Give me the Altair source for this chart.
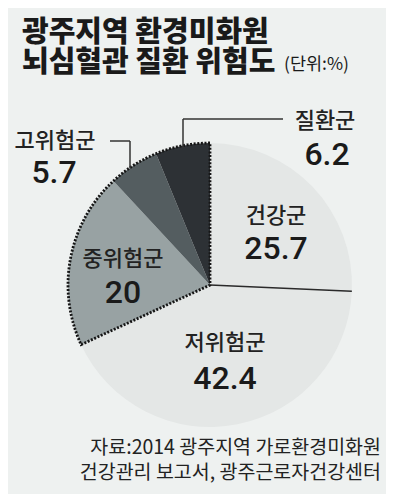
import altair as alt
import pandas as pd

# ---- data ----
names = ["건강군", "저위험군", "중위험군", "고위험군", "질환군"]
values = [25.7, 42.4, 20, 5.7, 6.2]
colors = ["#e4e7e6", "#e4e7e6", "#98a2a3", "#545d60", "#2d3135"]
dark_groups = ["중위험군", "고위험군", "질환군"]

title_line1 = "광주지역 환경미화원"
title_line2 = "뇌심혈관 질환 위험도"
unit_text = "(단위:%)"
source_lines = ["자료:2014 광주지역 가로환경미화원", "건강관리 보고서, 광주근로자건강센터"]

# ---- layout (positions only) ----
W, H = 378, 486
CX, CY, R = 202, 277, 142
name_pos = {"건강군": (268, 208), "저위험군": (217, 335), "중위험군": (115, 251),
            "고위험군": (47, 133), "질환군": (317, 113)}
value_pos = {"건강군": (268, 241), "저위험군": (217, 371), "중위험군": (115, 285),
             "고위험군": (46, 165), "질환군": (319, 147)}
leaders = [(175, 111, 275, 111), (175, 111, 175, 140),
           (102, 133, 122, 133), (122, 133, 122, 160)]

KFONT = "Noto Sans CJK KR"
NFONT = "Roboto"

# main slices, plus a zero-width divider between 건강군 and 저위험군
rows = []
for i, (n, v) in enumerate(zip(names, values)):
    rows.append({"name": n, "value": v, "ord": i * 2})
rows.append({"name": "divider", "value": 0.0, "ord": 1})
slices = pd.DataFrame(rows)

pie = alt.Chart(slices).mark_arc(outerRadius=R, strokeWidth=1.4).encode(
    theta=alt.Theta("value:Q", stack=True),
    order=alt.Order("ord:Q"),
    color=alt.Color("name:N", scale=alt.Scale(domain=names + ["divider"], range=colors + ["transparent"]), legend=None),
    stroke=alt.condition("datum.name == 'divider'", alt.value("#2a2a2a"), alt.value("transparent")),
    x=alt.value(CX), y=alt.value(CY),
)

light_total = sum(v for n, v in zip(names, values) if n not in dark_groups)
dark_total = sum(v for n, v in zip(names, values) if n in dark_groups)
groups = pd.DataFrame({"grp": ["light", "dark"], "value": [light_total, dark_total], "ord": [0, 1]})

outline = alt.Chart(groups).mark_arc(outerRadius=R, fill="transparent", strokeWidth=2.8,
                                     strokeDash=[2, 1.6]).encode(
    theta=alt.Theta("value:Q", stack=True),
    order=alt.Order("ord:Q"),
    stroke=alt.condition("datum.grp == 'dark'", alt.value("#151515"), alt.value("transparent")),
    x=alt.value(CX), y=alt.value(CY),
)

lead_df = pd.DataFrame(leaders, columns=["x", "y", "x2", "y2"])
leader_rules = alt.Chart(lead_df).mark_rule(color="#333333", strokeWidth=1.5).encode(
    x=alt.X("x:Q", scale=None), y=alt.Y("y:Q", scale=None),
    x2="x2:Q", y2="y2:Q",
)

lab = pd.DataFrame({
    "name": names,
    "vtxt": [f"{v:g}" for v in values],
    "nx": [name_pos[n][0] for n in names], "ny": [name_pos[n][1] for n in names],
    "vx": [value_pos[n][0] for n in names], "vy": [value_pos[n][1] for n in names],
})
name_text = alt.Chart(lab).mark_text(font=KFONT, fontSize=22, fontWeight=500, color="#222222",
                                     align="center", baseline="middle").encode(
    x=alt.X("nx:Q", scale=None), y=alt.Y("ny:Q", scale=None), text="name:N")
value_text = alt.Chart(lab).mark_text(font=NFONT, fontSize=32, fontWeight=500, color="#1a1a1a",
                                      align="center", baseline="middle").encode(
    x=alt.X("vx:Q", scale=None), y=alt.Y("vy:Q", scale=None), text="vtxt:N")

def txt(t, x, y, size, weight="normal", align="left", font=KFONT, color="#1a1a1a"):
    return alt.Chart(pd.DataFrame({"t": [t]})).mark_text(
        font=font, fontSize=size, fontWeight=weight, align=align, baseline="middle", color=color
    ).encode(x=alt.value(x), y=alt.value(y), text="t:N")

title1 = txt(title_line1, 14, 25, 29, 900)
title2 = txt(title_line2, 14, 55, 29, 900)
unit = txt(unit_text, 276, 57, 17.5)
src1 = txt(source_lines[0], 373, 440, 19.5, align="right", color="#222222")
src2 = txt(source_lines[1], 373, 465, 19.5, align="right", color="#222222")

chart = alt.layer(
    pie, outline, leader_rules, name_text, value_text, title1, title2, unit, src1, src2
).resolve_scale(theta="independent").properties(
    width=W, height=H, autosize="none", padding=0, background="#eef1f0"
).configure_view(stroke=None)

chart.save("out.html", embed_options={"renderer": "svg", "actions": False})
